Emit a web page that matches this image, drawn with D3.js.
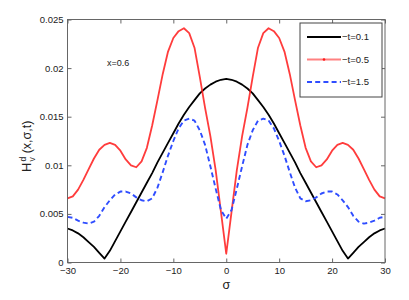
<!DOCTYPE html>
<html>
<head>
<meta charset="UTF-8">
<style>
    body { margin: 0; background: white; }
    svg text { font-family: "Liberation Sans", Arial, Helvetica, sans-serif; fill: #222; }
</style>
<script src="https://cdn.jsdelivr.net/npm/d3@7"></script>
</head>
<body>
<div id="chart"></div>
<script>
// sigma grid
const sigma = [-30, -29, -28, -27, -26, -25, -24, -23, -22, -21, -20, -19, -18, -17, -16, -15,
    -14, -13, -12, -11, -10, -9, -8, -7, -6, -5, -4, -3, -2, -1, 0,
    1, 2, 3, 4, 5, 6, 7, 8, 9, 10, 11, 12, 13, 14, 15,
    16, 17, 18, 19, 20, 21, 22, 23, 24, 25, 26, 27, 28, 29, 30];

// t = 0.1
const seriesT01 = [0.0035, 0.0033, 0.0030, 0.0026, 0.0021, 0.0016, 0.0010, 0.0004, 0.0012, 0.0022,
    0.0032, 0.0042, 0.0052, 0.0062, 0.0072, 0.0082, 0.0092, 0.0103, 0.0113, 0.0123,
    0.0133, 0.0143, 0.0152, 0.0160, 0.0167, 0.0174, 0.0179, 0.0183, 0.0186, 0.0188,
    0.0189,
    0.0188, 0.0186, 0.0183, 0.0179, 0.0174, 0.0167, 0.0160, 0.0152, 0.0143, 0.0133,
    0.0123, 0.0113, 0.0103, 0.0092, 0.0082, 0.0072, 0.0062, 0.0052, 0.0042, 0.0032,
    0.0022, 0.0012, 0.0004, 0.0010, 0.0016, 0.0021, 0.0026, 0.0030, 0.0033, 0.0035];

// t = 0.5
const seriesT05 = [0.0066, 0.0068, 0.0075, 0.0085, 0.0096, 0.0107, 0.0116, 0.0121, 0.0123, 0.0121,
    0.0115, 0.0106, 0.0100, 0.0098, 0.0104, 0.0118, 0.0141, 0.0167, 0.0194, 0.0217,
    0.0231, 0.0238, 0.0241, 0.0236, 0.0221, 0.0191, 0.0159, 0.0130, 0.0095, 0.0052,
    0.0009,
    0.0052, 0.0095, 0.0130, 0.0159, 0.0191, 0.0221, 0.0236, 0.0241, 0.0238, 0.0231,
    0.0217, 0.0194, 0.0167, 0.0141, 0.0118, 0.0104, 0.0098, 0.0100, 0.0106, 0.0115,
    0.0121, 0.0123, 0.0121, 0.0116, 0.0107, 0.0096, 0.0085, 0.0075, 0.0068, 0.0066];

// t = 1.5
const seriesT15 = [0.0047, 0.0046, 0.0043, 0.0041, 0.0040, 0.0042, 0.0048, 0.0057, 0.0064, 0.0070,
    0.0073, 0.0073, 0.0071, 0.0067, 0.0064, 0.0063, 0.0066, 0.0077, 0.0093, 0.0110,
    0.0125, 0.0138, 0.0146, 0.0148, 0.0146, 0.0136, 0.0121, 0.0099, 0.0076, 0.0054,
    0.0045,
    0.0054, 0.0076, 0.0099, 0.0121, 0.0136, 0.0146, 0.0148, 0.0146, 0.0138, 0.0125,
    0.0110, 0.0093, 0.0077, 0.0066, 0.0063, 0.0064, 0.0067, 0.0071, 0.0073, 0.0073,
    0.0070, 0.0064, 0.0057, 0.0048, 0.0042, 0.0040, 0.0041, 0.0043, 0.0046, 0.0047];

const legendLabels = ["\u2212t=0.1", "\u2212t=0.5", "\u2212t=1.5"];
const xTicks = [-30, -20, -10, 0, 10, 20, 30];
const xTickLabels = ["\u221230", "\u221220", "\u221210", "0", "10", "20", "30"];
const yTicks = [0, 0.005, 0.01, 0.015, 0.02, 0.025];
const yTickLabels = ["0", "0.005", "0.01", "0.015", "0.02", "0.025"];

const w = 409, h = 300;
const plotLeft = 67.5, plotRight = 385, plotTop = 19.5, plotBottom = 262.5;

const series = [
    { values: seriesT01, color: "#000000", width: 1.8, dash: null, opacity: 1 },
    { values: seriesT05, color: "#ff1a1a", width: 1.8, dash: null, opacity: 0.85 },
    { values: seriesT15, color: "#2f4dff", width: 1.9, dash: "5,3.2", opacity: 1 }
];

const x = d3.scaleLinear().domain([-30, 30]).range([plotLeft, plotRight]);
const y = d3.scaleLinear().domain([0, 0.025]).range([plotBottom, plotTop]);

const svg = d3.select("#chart").append("svg")
    .attr("width", w)
    .attr("height", h);

// axes, matlab style: ticks pointing inwards on all four sides
const xLabelAt = v => xTickLabels[xTicks.indexOf(v)];
const yLabelAt = v => yTickLabels[yTicks.indexOf(v)];

svg.append("g")
    .attr("transform", `translate(0,${plotBottom})`)
    .call(d3.axisBottom(x).tickValues(xTicks).tickFormat(xLabelAt)
        .tickSizeInner(-4).tickSizeOuter(0).tickPadding(5));
svg.append("g")
    .attr("transform", `translate(0,${plotTop})`)
    .call(d3.axisTop(x).tickValues(xTicks).tickFormat("")
        .tickSizeInner(-4).tickSizeOuter(0));
svg.append("g")
    .attr("transform", `translate(${plotLeft},0)`)
    .call(d3.axisLeft(y).tickValues(yTicks).tickFormat(yLabelAt)
        .tickSizeInner(-4).tickSizeOuter(0).tickPadding(4));
svg.append("g")
    .attr("transform", `translate(${plotRight},0)`)
    .call(d3.axisRight(y).tickValues(yTicks).tickFormat("")
        .tickSizeInner(-4).tickSizeOuter(0));

svg.selectAll(".domain").remove();
svg.selectAll(".tick line").attr("stroke", "#666");
svg.selectAll(".tick text").style("font-size", "9.5px").attr("fill", "#222");

// curves
const line = d3.line()
    .x((d, i) => x(sigma[i]))
    .y(d => y(d))
    .curve(d3.curveLinear);

series.forEach(s => {
    svg.append("path")
        .datum(s.values)
        .attr("fill", "none")
        .attr("stroke", s.color)
        .attr("stroke-width", s.width)
        .attr("stroke-opacity", s.opacity)
        .attr("stroke-dasharray", s.dash)
        .attr("stroke-linejoin", "round")
        .attr("d", line);
});

// frame
svg.append("rect")
    .attr("x", plotLeft).attr("y", plotTop)
    .attr("width", plotRight - plotLeft).attr("height", plotBottom - plotTop)
    .attr("fill", "none")
    .attr("stroke", "#666")
    .attr("stroke-width", 1);

// annotation
svg.append("text")
    .attr("x", 107).attr("y", 66)
    .style("font-size", "9px")
    .text("x=0.6");

// axis labels
svg.append("text")
    .attr("x", x(0)).attr("y", 288.5)
    .attr("text-anchor", "middle")
    .style("font-size", "12.5px")
    .text("\u03c3");

const yl = svg.append("text")
    .attr("transform", "translate(30.5,172) rotate(-90)")
    .attr("text-anchor", "start")
    .style("font-size", "12.5px");
yl.append("tspan").style("font-size", "13px").text("H");
yl.append("tspan").attr("dx", "1").attr("dy", "-5").style("font-size", "8.5px").text("d");
yl.append("tspan").attr("dx", "-4.7").attr("dy", "9").style("font-size", "8.5px").text("v");
yl.append("tspan").attr("dx", "4").attr("dy", "-4").text("(x,\u03c3,t)");

// legend
const legend = svg.append("g").attr("transform", "translate(300,23)");
legend.append("rect")
    .attr("width", 82).attr("height", 74)
    .attr("fill", "white")
    .attr("stroke", "#444")
    .attr("stroke-width", 1);

series.forEach((s, i) => {
    const ly = 14 + i * 22.5;
    legend.append("line")
        .attr("x1", 7).attr("x2", 41)
        .attr("y1", ly).attr("y2", ly)
        .attr("stroke", s.color)
        .attr("stroke-width", s.width)
        .attr("stroke-opacity", i === 1 ? 0.55 : 1)
        .attr("stroke-dasharray", s.dash);
    if (i === 1) {
        legend.append("circle")
            .attr("cx", 24).attr("cy", ly).attr("r", 1.3)
            .attr("fill", s.color);
    }
    legend.append("text")
        .attr("x", 42).attr("y", ly)
        .attr("dy", "0.35em")
        .style("font-size", "9.5px")
        .text(legendLabels[i]);
});
</script>
</body>
</html>
